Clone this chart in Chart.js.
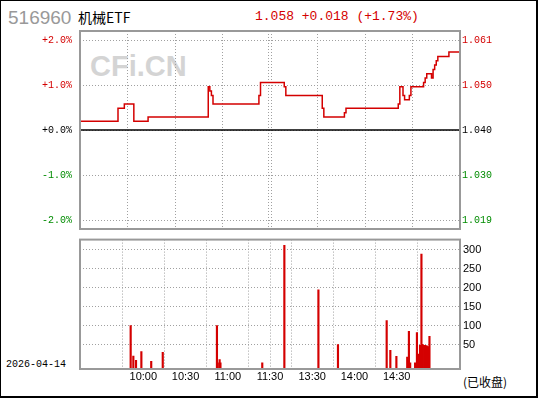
<!DOCTYPE html>
<html>
<head>
<meta charset="utf-8">
<script src="https://cdn.jsdelivr.net/npm/chart.js@4.4.0/dist/chart.umd.min.js"></script>
<style>
  body { margin: 0; background: #fff; }
  #wrap { position: relative; width: 540px; height: 400px; overflow: hidden; background: #fff; }
  #frame { position: absolute; left: 0; top: 0; width: 535px; height: 395px;
    border-left: 1px solid #000; border-top: 1px solid #000;
    border-right: 2px solid #000; border-bottom: 2px solid #000; }
  .txt { position: absolute; white-space: nowrap; line-height: 1; }
  #code { left: 8px; top: 7px; font: 19px "Liberation Sans", Arial, sans-serif; color: #999; }
  #name { left: 78px; top: 7px; font: 14px "Noto Sans CJK SC", sans-serif; color: #000; }
  #quote { left: 255px; top: 9px; font: 13px "Liberation Mono", monospace; color: #d40000; }
  #mark { left: 90px; top: 50px; font: bold 29px "Liberation Sans", Arial, sans-serif; color: #d4d4d4; }
  #date { left: 6px; top: 359px; font: 10px "Liberation Mono", monospace; color: #000; }
  #closed { left: 463px; top: 373px; font: 12px "Noto Sans CJK SC", sans-serif; color: #000; }
  canvas { position: absolute; left: 0; }
  #price { top: 0; }
  #vol { top: 230px; }
</style>
</head>
<body>
<div id="wrap">
  <div id="frame"></div>
  <div class="txt" id="mark">CFi.CN</div>
  <div class="txt" id="code">516960</div>
  <div class="txt" id="name">机械ETF</div>
  <div class="txt" id="quote">1.058 +0.018 (+1.73%)</div>
  <div class="txt" id="date">2026-04-14</div>
  <div class="txt" id="closed">(已收盘)</div>
  <canvas id="price" width="540" height="243"></canvas>
  <canvas id="vol" width="540" height="170"></canvas>
</div>
<script>
// minutes since 9:30 (trading minutes, lunch break removed)
const PREV_CLOSE = 1.040;
const P_TIMES = [0, 24, 25, 28, 29, 34, 35, 43, 44, 81, 82, 83, 84, 85, 113, 114, 115,
  129, 130, 131, 153, 154, 155, 167, 168, 169, 201, 202, 203, 204, 205, 206, 208, 209, 210,
  217, 218, 219, 220, 222, 223, 224, 225, 226, 227, 233, 234, 240];
const PRICES = [1.042, 1.042, 1.045, 1.045, 1.046, 1.046, 1.042, 1.042, 1.043, 1.043, 1.050, 1.049, 1.048, 1.046, 1.046, 1.048, 1.051,
  1.051, 1.050, 1.048, 1.048, 1.045, 1.043, 1.043, 1.044, 1.045, 1.045, 1.046, 1.050, 1.050, 1.048, 1.047, 1.047, 1.048, 1.050,
  1.050, 1.051, 1.052, 1.053, 1.053, 1.052, 1.054, 1.055, 1.056, 1.057, 1.057, 1.058, 1.058];

const V_TIMES = [21, 22.9, 24.8, 28.6, 35.6, 43.8, 82.3, 82.9, 84.2, 84.8, 114.5, 130.2, 154.4, 168.3,
  202.9, 205.5, 209.8, 217.5, 218.7, 219.6, 223.1, 224.4, 225.7, 226.6, 227.6, 228.4, 229.5, 230.4, 231.4, 232.3, 233.3];
const VOLUMES = [100, 20, 9, 32, 6, 30, 100, 2, 11, 2, 2, 311, 194, 50,
  113, 35, 19, 17, 85, 2, 2, 82, 25, 48, 288, 51, 48, 48, 47, 45, 72];

const PCT_TICKS = [-2, -1, 0, 1, 2];
const PCT_RANGE = 2.2;
const VOL_TICKS = [50, 100, 150, 200, 250, 300];
const VOL_MIN = -14, VOL_MAX = 326;
const TIME_TICKS = [30, 60, 90, 119, 120, 121, 150, 180, 210];
const TIME_LABELS = ['10:00', '10:30', '11:00', '', '11:30', '', '13:30', '14:00', '14:30'];

const RED = '#d40000', GREEN = '#008c00', GRID = '#a0a0a0';
const MONO = { family: 'Liberation Mono', size: 10 };
const SANS = { family: 'Liberation Sans', size: 11 };

const frame = {
  id: 'frame',
  afterDraw(chart) {
    const { ctx, chartArea: a } = chart;
    ctx.save();
    ctx.strokeStyle = '#999';
    ctx.lineWidth = 2;
    ctx.strokeRect(a.left, a.top, a.right - a.left, a.bottom - a.top);
    ctx.restore();
  }
};

function pctColor(v) {
  if (Math.abs(v) < 1e-9) return '#000';
  return v > 0 ? RED : GREEN;
}

function timeAxis(showLabels) {
  return {
    type: 'linear', min: 0, max: 240,
    afterBuildTicks: s => { s.ticks = TIME_TICKS.map(v => ({ value: v })); },
    afterFit: s => { s.height = showLabels ? 31 : 0; },
    grid: { color: c => (c.tick && c.tick.value === 120) ? 'rgba(0,0,0,0)' : GRID, drawTicks: false, lineWidth: 1 },
    border: { display: false, dash: [1, 2] },
    ticks: {
      display: showLabels, padding: 1, color: '#000', font: SANS, maxRotation: 0, autoSkip: false,
      callback: v => TIME_LABELS[TIME_TICKS.indexOf(v)]
    }
  };
}

Chart.defaults.animation = false;

new Chart(document.getElementById('price'), {
  type: 'line',
  data: {
    datasets: [
      {
        data: [{ x: 0, y: PREV_CLOSE }, { x: 240, y: PREV_CLOSE }],
        yAxisID: 'y2', borderColor: '#000', borderWidth: 1.5, pointRadius: 0
      },
      {
        data: P_TIMES.map((t, i) => ({ x: t, y: PRICES[i] })),
        yAxisID: 'y2', borderColor: RED, borderWidth: 1.5, pointRadius: 0, stepped: 'after'
      }
    ]
  },
  options: {
    responsive: false,
    layout: { padding: { top: 31, bottom: 7, left: 0, right: 0 } },
    plugins: { legend: { display: false }, tooltip: { enabled: false } },
    scales: {
      x: timeAxis(false),
      y: {
        position: 'left', min: -PCT_RANGE, max: PCT_RANGE,
        afterBuildTicks: s => { s.ticks = PCT_TICKS.map(v => ({ value: v })); },
        afterFit: s => { s.width = 80; },
        grid: { color: GRID, drawTicks: false },
        border: { display: false, dash: [1, 2] },
        ticks: {
          padding: 8, font: MONO,
          color: c => pctColor(c.tick.value),
          callback: v => (v < 0 ? '' : '+') + v.toFixed(1) + '%'
        }
      },
      y2: {
        position: 'right',
        min: PREV_CLOSE * (1 - PCT_RANGE / 100), max: PREV_CLOSE * (1 + PCT_RANGE / 100),
        afterBuildTicks: s => { s.ticks = PCT_TICKS.map(p => ({ value: PREV_CLOSE * (1 + p / 100) })); },
        afterFit: s => { s.width = 80; },
        grid: { display: false, drawTicks: false },
        border: { display: false },
        ticks: {
          padding: 2, font: MONO,
          color: c => pctColor(c.tick.value - PREV_CLOSE),
          callback: v => v.toFixed(3)
        }
      }
    }
  },
  plugins: [frame]
});

new Chart(document.getElementById('vol'), {
  type: 'bar',
  data: {
    datasets: [{
      data: V_TIMES.map((t, i) => ({ x: t, y: VOLUMES[i] })),
      base: VOL_MIN,
      backgroundColor: RED, barThickness: 1.5
    }]
  },
  options: {
    responsive: false,
    layout: { padding: { top: 8, bottom: 0, left: 80, right: 0 } },
    plugins: { legend: { display: false }, tooltip: { enabled: false } },
    scales: {
      x: timeAxis(true),
      y: {
        position: 'right', min: VOL_MIN, max: VOL_MAX,
        afterBuildTicks: s => { s.ticks = VOL_TICKS.map(v => ({ value: v })); },
        afterFit: s => { s.width = 80; },
        grid: { color: GRID, drawTicks: false },
        border: { display: false, dash: [1, 2] },
        ticks: { padding: 3, font: SANS, color: '#000' }
      }
    }
  },
  plugins: [frame]
});
</script>
</body>
</html>
